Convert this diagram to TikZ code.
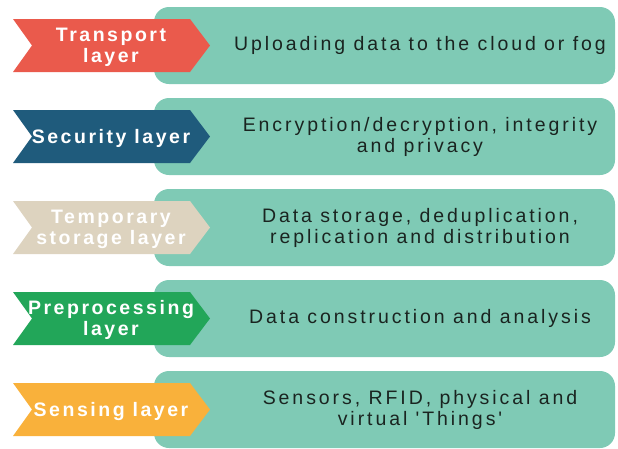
\documentclass[tikz,border=0pt]{standalone}
\usepackage{fontspec}
\setmainfont{Liberation Sans}
\newfontfamily\lblfont[LetterSpace=13]{Liberation Sans}
\newfontfamily\bodyfont[LetterSpace=15]{Liberation Sans}
\definecolor{boxteal}{HTML}{7FCAB5}
\definecolor{cred}{HTML}{EA5A4C}
\definecolor{cblue}{HTML}{1F5B7C}
\definecolor{cbeige}{HTML}{DDD3BF}
\definecolor{cgreen}{HTML}{22A659}
\definecolor{corange}{HTML}{F9B13B}
\definecolor{txt}{HTML}{1A2420}
\tikzset{
  infobox/.style={fill=boxteal, rounded corners=15pt},
  lbltext/.style={text=white, align=center, font=\lblfont\bfseries\fontsize{19.5}{21}\selectfont, inner sep=0pt},
  bodytext/.style={text=txt, align=center, font=\bodyfont\fontsize{19.5}{21}\selectfont, inner sep=0pt},
}
\begin{document}
\begin{tikzpicture}[x=1pt,y=-1pt]
\useasboundingbox (0,0) rectangle (618,448);
\foreach \c/\col/\lbl/\body/\n in {
  45.5/cred/{Transport\\layer}/{Uploading data to the cloud or fog}/1,
  136.5/cblue/{Security layer}/{Encryption/decryption, integrity\\and privacy}/2,
  227.5/cbeige/{Temporary\\storage layer}/{Data storage, deduplication,\\replication and distribution}/3,
  318.5/cgreen/{Preprocessing\\layer}/{Data construction and analysis}/4,
  409.5/corange/{Sensing layer}/{Sensors, RFID, physical and\\virtual 'Things'}/5}
{
  \fill[infobox] (154,\c-38.5) rectangle (615,\c+38.5);
  \fill[\col] (13,\c-26.5) -- (190,\c-26.5) -- (210,\c) -- (190,\c+26.5) -- (13,\c+26.5) -- (32,\c) -- cycle;
  \node[lbltext] (lbl\n) at (111,\c+1.5) {\lbl};
  \node[bodytext] (body\n) at (420,\c) {\body};
}
\end{tikzpicture}
\end{document}
